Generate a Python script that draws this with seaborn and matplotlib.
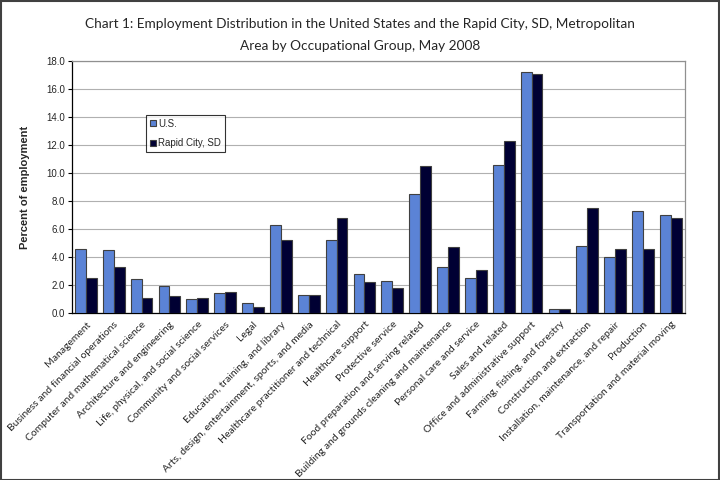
import pandas as pd
import seaborn as sns
import matplotlib.pyplot as plt

# data (percent of employment)
groups = ['Management', 'Business and financial operations', 'Computer and mathematical science',
          'Architecture and engineering', 'Life, physical, and social science',
          'Community and social services', 'Legal', 'Education, training, and library',
          'Arts, design, entertainment, sports, and media', 'Healthcare practitioner and technical',
          'Healthcare support', 'Protective service', 'Food preparation and serving related',
          'Building and grounds cleaning and maintenance', 'Personal care and service',
          'Sales and related', 'Office and administrative support', 'Farming, fishing, and forestry',
          'Construction and extraction', 'Installation, maintenance, and repair', 'Production',
          'Transportation and material moving']
us = [4.6, 4.5, 2.4, 1.9, 1.0, 1.4, 0.7, 6.3, 1.3, 5.2, 2.8, 2.3, 8.5, 3.3, 2.5, 10.6, 17.2, 0.3,
      4.8, 4.0, 7.3, 7.0]
rapid_city = [2.5, 3.3, 1.1, 1.2, 1.1, 1.5, 0.4, 5.2, 1.3, 6.8, 2.2, 1.8, 10.5, 4.7, 3.1, 12.3, 17.1,
              0.3, 7.5, 4.6, 4.6, 6.8]
series = ['U.S.', 'Rapid City, SD']

df = pd.DataFrame({'group': groups * 2,
                   'area': [series[0]] * len(groups) + [series[1]] * len(groups),
                   'pct': us + rapid_city})

sns.set_style('white')
plt.rcParams['font.family'] = ['Liberation Sans', 'DejaVu Sans']

fig = plt.figure(figsize=(7.2, 4.8), dpi=100)
ax = fig.add_axes([0.1, 0.348, 0.851, 0.525])

sns.barplot(data=df, x='group', y='pct', hue='area', order=groups, hue_order=series,
            palette=['#5b83d6', '#000033'], width=0.78, edgecolor='#404040', linewidth=0.8,
            saturation=1, ax=ax, zorder=3)

ax.set_ylim(0, 18)
ax.set_yticks([i * 2.0 for i in range(10)])
ax.set_yticklabels(['%.1f' % (i * 2.0) for i in range(10)], fontsize=7)
ax.set_xlim(-0.5, len(groups) - 0.5)
ax.grid(axis='y', color='#b0b0b0', linewidth=0.8, zorder=0)
ax.tick_params(axis='y', length=3, width=0.8, color='black', pad=2, left=True)
ax.tick_params(axis='x', length=0, pad=5)
ax.set_xticks(range(len(groups)))
ax.set_xticklabels(groups, rotation=45, ha='right', rotation_mode='anchor', fontsize=7.5,
                   family=['Lato', 'DejaVu Sans'])
ax.set_xlabel('')
ax.set_ylabel('Percent of employment', fontsize=8, fontweight='bold', labelpad=12)

for side in ['left', 'bottom']:
    ax.spines[side].set_color('black')
    ax.spines[side].set_linewidth(0.9)
for side in ['top', 'right']:
    ax.spines[side].set_color('#909090')
    ax.spines[side].set_linewidth(0.9)

handles, labels = ax.get_legend_handles_labels()
leg = ax.legend(handles, labels, loc='upper left', bbox_to_anchor=(0.121, 0.786), fontsize=7,
                handlelength=0.6, handleheight=0.6, handletextpad=0.25, frameon=True,
                fancybox=False, edgecolor='black', borderpad=0.4, labelspacing=1.0,
                borderaxespad=0)
leg.get_frame().set_linewidth(0.8)

fig.text(0.5, 0.95, 'Chart 1: Employment Distribution in the United States and the Rapid City, SD, Metropolitan',
         ha='center', va='center', fontsize=9.8, family=['Lato', 'DejaVu Sans'])
fig.text(0.5, 0.905, 'Area by Occupational Group, May 2008',
         ha='center', va='center', fontsize=9.8, family=['Lato', 'DejaVu Sans'])

# outer frame around the chart
fig.patches.append(plt.Rectangle((0.001, 0.001), 0.997, 0.997, transform=fig.transFigure,
                                 fill=False, edgecolor='#404040', linewidth=1.5))

plt.savefig('out.png', dpi=100)
